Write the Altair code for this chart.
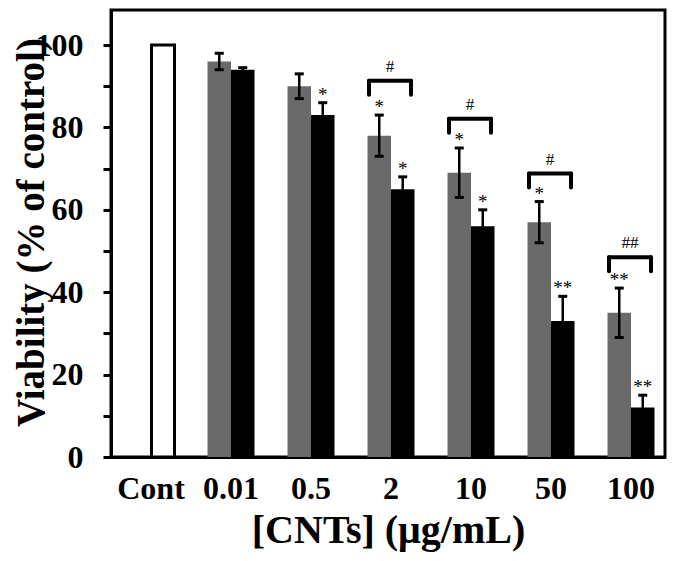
import altair as alt
import pandas as pd

# ---------------- data ----------------
categories = ["Cont", "0.01", "0.5", "2", "10", "50", "100"]
groups = ["0.01", "0.5", "2", "10", "50", "100"]
control_value = [100]
series_a = [96, 90, 78, 69, 57, 35]          # grey bars
err_a = [2, 3, 5, 6, 5, 6]
series_b = [94, 83, 65, 56, 33, 12]          # black bars
err_b = [0.5, 3, 3, 4, 6, 3]
stars_a = ["", "", "*", "*", "*", "**"]
stars_b = ["", "*", "*", "*", "**", "**"]
bracket_groups = ["2", "10", "50", "100"]
bracket_y = [91.3, 82.1, 68.8, 48.5]
bracket_marks = ["#", "#", "#", "##"]
y_ticks = [0, 10, 20, 30, 40, 50, 60, 70, 80, 90, 100]

GREY = "#6a6a6a"
FONT = "Liberation Serif"

df_ctrl = pd.DataFrame({"cat": ["Cont"], "v": control_value})
df_a = pd.DataFrame({"cat": groups, "v": series_a, "err": err_a, "star": stars_a})
df_b = pd.DataFrame({"cat": groups, "v": series_b, "err": err_b, "star": stars_b})
for d in (df_a, df_b):
    d["lo"] = d["v"] - d["err"]
    d["hi"] = d["v"] + d["err"]
df_br = pd.DataFrame({"cat": bracket_groups, "y": bracket_y, "lab": bracket_marks})


def X(field="cat"):
    return alt.X(
        f"{field}:N",
        scale=alt.Scale(domain=categories, paddingInner=0.15, paddingOuter=0.0375, align=1),
        axis=alt.Axis(
            title="[CNTs] (μg/mL)", labelAngle=0, ticks=False, domainWidth=3,
            domainColor="black", labelFont=FONT, labelFontWeight="bold",
            labelFontSize=32, labelColor="black", labelPadding=16,
            titleFont=FONT, titleFontWeight="bold", titleFontSize=40,
            titleColor="black", titleY=85, titleBaseline="alphabetic",
        ),
    )


def Y(field):
    return alt.Y(
        f"{field}:Q",
        scale=alt.Scale(domain=[0, 108.5], nice=False, zero=True),
        axis=alt.Axis(
            title="Viability (% of control)", values=y_ticks,
            labelExpr="datum.value % 20 == 0 ? datum.label : ''",
            grid=False, tickSize=8, tickWidth=3, tickColor="black",
            domainWidth=3, domainColor="black",
            labelFont=FONT, labelFontWeight="bold", labelFontSize=32,
            labelColor="black", labelPadding=20,
            titleFont=FONT, titleFontWeight="bold", titleFontSize=39,
            titleColor="black", titleX=-80, titleY=222, titleAngle=-90,
            titleBaseline="middle", titleAlign="center", titleAnchor="middle",
        ),
    )


BW = 23.5
OFF = 11.75

ctrl = alt.Chart(df_ctrl).mark_bar(
    width=23, xOffset=12, fill="white", stroke="black", strokeWidth=3
).encode(x=X(), y=Y("v"))

bar_a = alt.Chart(df_a).mark_bar(width=BW, xOffset=-OFF, color=GREY).encode(x=X(), y=Y("v"))
bar_b = alt.Chart(df_b).mark_bar(width=BW, xOffset=OFF, color="black").encode(x=X(), y=Y("v"))

layers = [ctrl, bar_a, bar_b]

for d, off in ((df_a, -OFF), (df_b, OFF)):
    base = alt.Chart(d)
    layers.append(
        base.mark_rule(xOffset=off, strokeWidth=2.5, color="black").encode(
            x=X(), y=Y("lo"), y2="hi:Q"
        )
    )
    for f in ("hi", "lo"):
        layers.append(
            base.mark_rule(xOffset=off - 4.5, x2Offset=off + 4.5, strokeWidth=3, color="black").encode(
                x=X(), x2="cat:N", y=Y(f)
            )
        )
    layers.append(
        base.mark_text(
            xOffset=off, dy=-2, baseline="alphabetic", align="center",
            font=FONT, fontSize=19, color="black",
        ).encode(x=X(), y=Y("hi"), text="star:N")
    )

br = alt.Chart(df_br)
L, R, DROP = -22, 20, 14
layers.append(
    br.mark_rule(xOffset=L, x2Offset=R, strokeWidth=4, color="black", strokeCap="round").encode(
        x=X(), x2="cat:N", y=Y("y")
    )
)
for o in (L, R):
    layers.append(
        br.mark_rule(xOffset=o, y2Offset=DROP, strokeWidth=4, color="black", strokeCap="round").encode(
            x=X(), y=Y("y"), y2="y:Q"
        )
    )
layers.append(
    br.mark_text(
        xOffset=(L + R) / 2, dy=-9, baseline="alphabetic", align="center",
        font=FONT, fontSize=17, color="black",
    ).encode(x=X(), y=Y("y"), text="lab:N")
)

chart = (
    alt.layer(*layers)
    .properties(
        width=554, height=447,
        autosize=alt.AutoSizeParams(type="none"),
        padding={"left": 103, "top": 2, "right": 2, "bottom": 96},
        background="white",
    )
    .configure_view(stroke="black", strokeWidth=3)
)

chart.save("out.html", embed_options={"renderer": "svg", "actions": False})
